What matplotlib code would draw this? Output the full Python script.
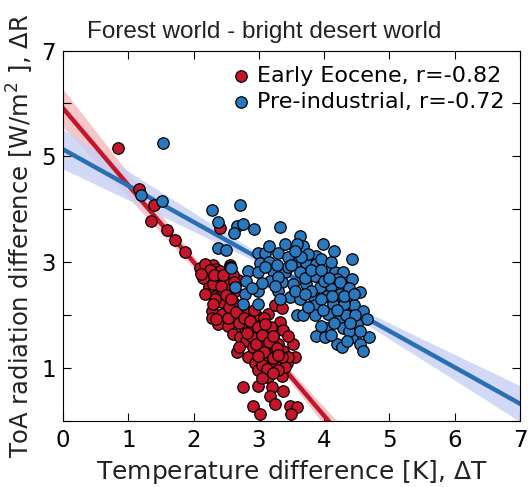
import numpy as np
import matplotlib
matplotlib.use("Agg")
import matplotlib.pyplot as plt

# Early Eocene: temperature difference (K) and ToA radiation difference (W/m2)
eocene_dt = [0.84, 1.17, 1.40, 1.35, 1.60, 1.72, 1.87, 2.40, 2.10, 2.20,
             2.30, 2.35, 2.56, 2.38, 2.68, 2.25, 2.45, 2.48, 2.28, 2.28,
             2.38, 2.53, 2.63, 2.74, 2.61, 2.71, 2.79, 2.81, 2.89, 3.02,
             3.04, 2.99, 3.14, 3.25, 3.35, 3.32, 3.25, 3.07, 3.17, 3.25,
             3.37, 3.53, 3.55, 2.66, 2.84, 2.94, 3.12, 3.25, 3.43, 2.99,
             3.14, 3.35, 2.99, 3.20, 3.37, 2.76, 3.17, 3.25, 2.91, 3.02,
             3.48, 3.58, 3.50, 2.43, 2.53, 2.74, 2.94, 2.97, 3.12, 3.20,
             2.91, 3.04, 3.37, 3.45, 3.40, 3.30, 2.35, 2.43, 2.61, 2.63,
             2.23, 2.23, 2.17, 2.40, 2.48, 2.56, 2.15, 2.30, 2.52, 2.60,
             2.33, 2.55, 2.85, 2.95, 3.08, 3.18, 2.88, 3.10, 3.30, 2.96,
             3.15, 3.35, 3.05, 2.90, 3.45, 2.25, 2.32, 2.42, 2.50, 2.58,
             2.65, 2.70, 2.78, 2.86, 2.92, 2.98, 3.05, 3.10, 3.15, 3.22,
             3.28, 3.08, 2.98, 3.22, 3.30, 3.12, 3.22, 3.05, 2.82, 2.70,
             2.18, 2.30, 2.12, 2.45, 2.62]
eocene_dr = [5.15, 4.38, 4.07, 3.78, 3.61, 3.41, 3.19, 3.65, 2.88, 2.66,
             2.95, 2.87, 2.95, 2.65, 2.66, 2.43, 2.46, 2.27, 2.08, 1.95,
             1.83, 1.80, 2.11, 1.92, 1.64, 1.58, 1.73, 1.51, 1.92, 1.89,
             1.73, 1.58, 2.02, 2.18, 2.14, 1.86, 1.70, 1.45, 1.36, 1.29,
             1.32, 1.45, 1.20, 1.29, 1.20, 1.10, 1.13, 1.07, 1.10, 0.95,
             0.82, 0.85, 0.66, 0.63, 0.57, 0.64, 0.47, 0.32, 0.28, 0.13,
             0.28, 0.25, 0.13, 2.02, 1.95, 2.14, 1.83, 1.67, 1.64, 1.51,
             1.39, 1.29, 1.72, 1.20, 1.01, 0.95, 1.92, 2.24, 2.24, 2.46,
             2.52, 2.78, 2.96, 2.84, 2.65, 2.90, 2.70, 2.58, 2.58, 2.75,
             2.30, 2.15, 2.05, 2.00, 1.95, 1.78, 1.60, 1.55, 1.45, 1.45,
             1.20, 1.20, 1.05, 1.78, 1.60, 2.85, 2.75, 2.55, 2.38, 2.30,
             2.05, 1.85, 1.95, 1.88, 2.10, 1.78, 1.62, 1.82, 1.48, 1.60,
             1.38, 1.30, 1.22, 1.18, 1.25, 0.98, 0.90, 0.80, 1.65, 1.40,
             2.40, 2.20, 2.78, 2.75, 2.62]

# Pre-industrial
preind_dt = [1.53, 1.20, 1.51, 2.29, 2.71, 2.38, 2.66, 2.76, 2.62, 2.93,
             3.32, 3.63, 3.68, 3.58, 3.99, 4.42, 2.38, 2.50, 2.98, 3.09,
             3.30, 3.02, 3.45, 3.58, 3.73, 3.88, 3.88, 2.58, 2.84, 2.99,
             3.22, 3.40, 3.63, 3.86, 4.04, 4.17, 4.29, 4.42, 2.81, 3.17,
             3.35, 3.53, 3.73, 3.94, 4.11, 4.29, 2.63, 2.99, 3.30, 3.48,
             3.63, 3.83, 4.04, 4.24, 4.39, 4.55, 2.79, 2.99, 2.76, 3.32,
             3.86, 4.14, 4.45, 3.58, 3.68, 3.86, 4.06, 4.24, 4.34, 4.60,
             4.65, 4.04, 4.29, 4.50, 3.88, 4.01, 4.42, 4.68, 4.19, 4.27,
             4.55, 4.60, 3.75, 3.95, 4.10, 3.15, 3.45, 3.70, 4.00, 4.20,
             3.80, 4.30, 4.48, 4.15, 3.95, 4.38, 3.30, 3.10, 3.28, 3.50,
             3.65, 3.80, 3.95, 4.08, 4.25, 4.38, 3.55, 3.70, 3.95, 4.12,
             4.30, 4.45, 3.75, 3.98, 4.20, 4.40, 4.55, 4.35, 4.10, 3.25,
             3.05, 2.90, 3.15, 3.40, 3.55, 4.15]
preind_dr = [5.26, 4.27, 4.16, 3.99, 4.07, 3.76, 3.69, 3.72, 3.54, 3.62,
             3.66, 3.50, 3.31, 3.35, 3.35, 3.05, 3.27, 3.23, 3.18, 3.18,
             3.18, 2.99, 3.09, 2.99, 2.99, 3.12, 2.96, 2.89, 2.84, 2.81,
             2.84, 2.81, 2.81, 2.74, 2.81, 2.81, 2.81, 2.68, 2.65, 2.65,
             2.62, 2.58, 2.58, 2.52, 2.55, 2.55, 2.52, 2.46, 2.46, 2.33,
             2.30, 2.36, 2.36, 2.39, 2.30, 2.43, 2.39, 2.21, 2.21, 2.30,
             2.18, 2.21, 2.18, 1.99, 1.99, 1.99, 2.02, 1.95, 1.99, 2.08,
             1.92, 1.76, 1.76, 1.83, 1.61, 1.58, 1.58, 1.58, 1.45, 1.39,
             1.45, 1.32, 3.15, 3.05, 3.00, 3.00, 2.90, 2.70, 2.65, 2.68,
             2.45, 2.20, 2.00, 1.85, 1.80, 1.70, 2.72, 2.90, 2.95, 2.95,
             3.10, 2.85, 2.85, 2.70, 2.62, 2.50, 2.45, 2.40, 2.30, 2.35,
             2.35, 2.40, 2.15, 2.10, 2.10, 1.85, 1.70, 1.50, 1.62, 2.55,
             2.60, 2.50, 3.30, 3.35, 3.20, 3.20]

labels = ["Early Eocene, r=-0.82", "Pre-industrial, r=-0.72"]
marker_colors = ["#c4162a", "#2a78bd"]
line_colors = ["#c4162a", "#2a6fb5"]
band_colors = ["#f5b8bb", "#c6d0f5"]


def linear_fit(x, y, xgrid):
    # least squares line with a standard error band around it
    x = np.asarray(x)
    y = np.asarray(y)
    n = len(x)
    slope, intercept = np.polyfit(x, y, 1)
    resid = y - (slope * x + intercept)
    s = np.sqrt(np.sum(resid ** 2) / (n - 2))
    sxx = np.sum((x - x.mean()) ** 2)
    se = s * np.sqrt(1.0 / n + (xgrid - x.mean()) ** 2 / sxx)
    fit = slope * xgrid + intercept
    return fit, 1.6 * se


fig = plt.figure(figsize=(5.28, 4.87), dpi=100)
ax = fig.add_axes([0.1193, 0.1361, 0.8655, 0.7602])

xgrid = np.linspace(0, 7, 200)
datasets = [(eocene_dt, eocene_dr), (preind_dt, preind_dr)]

for i, (x, y) in enumerate(datasets):
    fit, ci = linear_fit(x, y, xgrid)
    ax.fill_between(xgrid, fit - ci, fit + ci, color=band_colors[i],
                    lw=0, alpha=0.8, zorder=1)
    ax.plot(xgrid, fit, color=line_colors[i], lw=3.2, zorder=2)

for i, (x, y) in enumerate(datasets):
    ax.scatter(x, y, s=68, color=marker_colors[i], edgecolor="black",
               linewidth=0.9, zorder=3 + i, label=labels[i])

ax.set_xlim(0, 7)
ax.set_ylim(0, 7)
ax.set_xticks(range(8))
ax.set_yticks(range(8))
ax.set_yticklabels([str(v) if v % 2 == 1 else "" for v in range(8)])
ax.tick_params(direction="in", length=6, top=True, right=True,
               labelsize=16.5)
ax.tick_params(axis="x", pad=6)
ax.tick_params(axis="y", pad=5)

ax.set_xlabel("Temperature difference [K], $\\Delta$T", fontsize=18,
              labelpad=4, color="#222222")
ax.set_ylabel("ToA radiation difference [W/m$^2$ ], $\\Delta$R",
              fontsize=17.5, labelpad=4, color="#222222")

fig.text(0.5, 0.935, "Forest world - bright desert world",
         family="Liberation Sans", fontsize=17.5, ha="center", va="center",
         color="#222222")

ax.legend(loc="upper right", frameon=False, fontsize=16, handletextpad=0.2,
          borderaxespad=0.3, labelspacing=0.25, handlelength=1.0,
          scatterpoints=1)

fig.savefig("out.png", dpi=100)
